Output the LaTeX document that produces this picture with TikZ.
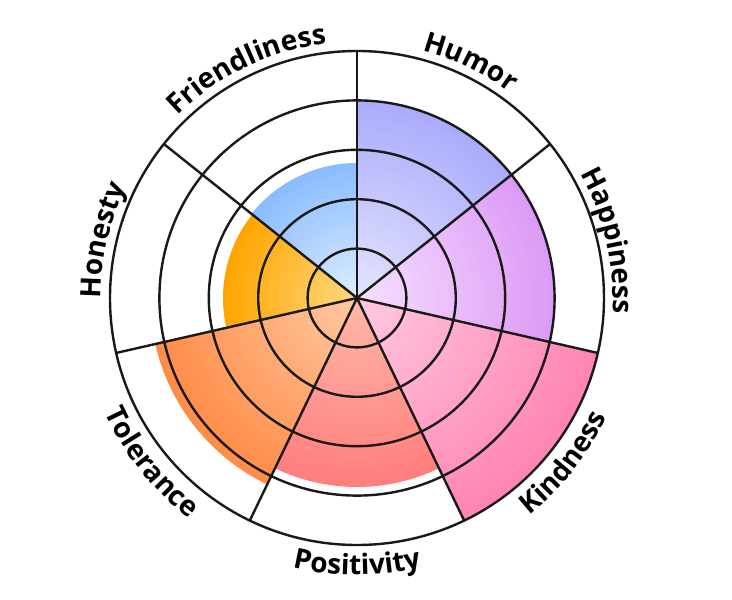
\documentclass[tikz,border=0pt]{standalone}
\usepackage{fontspec}
\setmainfont{Open Sans}
\usetikzlibrary{decorations.text}
\newfontfamily\lblfont{Open Sans}[BoldFont={* Bold}]
\newcommand\lbl{\lblfont\bfseries\fontsize{28}{28}\selectfont}
\newcommand\mysector[5]{%
  \foreach \k in {0,...,40}{%
    \pgfmathsetmacro\rr{#3*(1-\k/41)}%
    \pgfmathsetmacro\pp{100-100*\k/40}%
    \fill[#5!\pp!#4] (0,0) -- (#1:\rr pt) arc[start angle=#1,end angle=#2,radius=\rr pt] -- cycle;}}
\definecolor{huI}{HTML}{E4E4FE}\definecolor{huO}{HTML}{ABABFC}
\definecolor{haI}{HTML}{F6E0FF}\definecolor{haO}{HTML}{DC9AF6}
\definecolor{kiI}{HTML}{FFC8E0}\definecolor{kiO}{HTML}{FF85B2}
\definecolor{poI}{HTML}{FFB8A8}\definecolor{poO}{HTML}{FF7E7E}
\definecolor{toI}{HTML}{FFC8A0}\definecolor{toO}{HTML}{FF8C48}
\definecolor{hoI}{HTML}{FFD880}\definecolor{hoO}{HTML}{FFA500}
\definecolor{frI}{HTML}{DDEEFF}\definecolor{frO}{HTML}{8ABCFF}
\tikzset{ringline/.style={line width=2.4pt,draw=black!90},
  toplbl/.style={decorate,decoration={text along path,text align=center,text={|\lbl|#1}}},
  botlbl/.style={decorate,decoration={text along path,text align=center,text={|\lbl|#1}}}}
\begin{document}
\begin{tikzpicture}[x=1pt,y=1pt]
\useasboundingbox[fill=white] (-357,-302) rectangle (375,298);
\coordinate (c) at (0,0);
\mysector{38.571}{90}{198}{huI}{huO}
\mysector{-12.857}{38.571}{198}{haI}{haO}
\mysector{-64.286}{-12.857}{247}{kiI}{kiO}
\mysector{-115.714}{-64.286}{189}{poI}{poO}
\mysector{-167.143}{-115.714}{207}{toI}{toO}
\mysector{141.429}{192.857}{134}{hoI}{hoO}
\mysector{90}{141.429}{135}{frI}{frO}
\foreach \i in {1,...,5} \draw[ringline] (c) circle[radius=49.4*\i pt];
\foreach \a [count=\j] in {90,38.571,-12.857,-64.286,-115.714,-167.143,141.429}{
  \coordinate (s\j) at (\a:247pt);
  \draw[ringline] (c) -- (s\j);}
% upper labels (clockwise)
\path[toplbl=Humor] (100:256pt) arc[start angle=100,end angle=28.57,radius=256pt];
\path[toplbl=Happiness] (48.57:256pt) arc[start angle=48.57,end angle=-22.86,radius=256pt];
\path[toplbl=Friendliness] (151.43:256pt) arc[start angle=151.43,end angle=80,radius=256pt];
\path[toplbl=Honesty] (202.86:256pt) arc[start angle=202.86,end angle=131.43,radius=256pt];
% lower labels (counterclockwise)
\path[botlbl=Kindness] (-74.29:277pt) arc[start angle=-74.29,end angle=-2.86,radius=277pt];
\path[botlbl=Positivity] (-125.71:277pt) arc[start angle=-125.71,end angle=-54.29,radius=277pt];
\path[botlbl=Tolerance] (-177.14:277pt) arc[start angle=-177.14,end angle=-105.71,radius=277pt];
\end{tikzpicture}
\end{document}
